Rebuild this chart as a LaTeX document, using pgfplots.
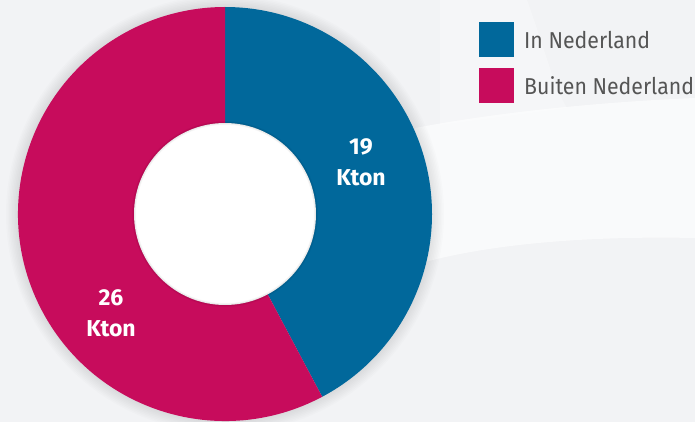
\documentclass[border=0pt]{standalone}
\usepackage{pgfplots}
\pgfplotsset{compat=1.18}
\usepackage{pgfplotstable}
\usepackage{fontspec}
\setmainfont{Fira Sans}
\definecolor{rhblue}{HTML}{01689B}
\definecolor{rhred}{HTML}{C70C5C}
\definecolor{bg}{HTML}{F2F3F5}
\definecolor{txt}{HTML}{555555}

\pgfplotstableread{
label value
InNederland 19
BuitenNederland 26
}\data

\begin{document}
\begin{tikzpicture}
\pgfplotstablegetelem{0}{value}\of\data \let\va\pgfplotsretval
\pgfplotstablegetelem{1}{value}\of\data \let\vb\pgfplotsretval
\pgfmathsetmacro\angA{360*\va/(\va+\vb)}
\pgfmathsetmacro\endA{90-\angA}
\begin{axis}[x=1pt,y=1pt,scale only axis,hide axis,
  xmin=0,xmax=695,ymin=0,ymax=422,y dir=reverse,clip=true]
\fill[bg] (axis cs:0,0) rectangle (axis cs:695,422);
% light swoosh
\fill[white,opacity=0.6] (axis cs:415,128) .. controls (axis cs:500,112) and (axis cs:600,102) .. (axis cs:695,98)
  -- (axis cs:695,238) .. controls (axis cs:600,236) and (axis cs:500,242) .. (axis cs:425,262) -- cycle;
\fill[white,opacity=0.3] (axis cs:440,0) -- (axis cs:527,0) .. controls (axis cs:545,50) and (axis cs:555,90) .. (axis cs:567,108)
  -- (axis cs:440,125) -- cycle;
% shadow
\pgfplotsinvokeforeach{1,...,8}{
  \fill[black,opacity=0.012] (axis cs:225,214) circle[radius=207+1.5*#1];
}
\fill[rhblue] (axis cs:225,214) -- ++(90:207pt) arc[start angle=90,end angle=\endA,radius=207pt] -- cycle;
\fill[rhred] (axis cs:225,214) -- ++(\endA:207pt) arc[start angle=\endA,end angle=-270,radius=207pt] -- cycle;
\fill[white] (axis cs:225,214) circle[radius=91];
\pgfplotsinvokeforeach{1,...,4}{
  \draw[black,opacity=0.025,line width=#1 pt] (axis cs:225,214) circle[radius=91];
}
% slice labels
\node[text=white,font=\fontsize{23}{31}\selectfont\bfseries,align=center] at (axis cs:361,162) {19\\Kton};
\node[text=white,font=\fontsize{23}{31}\selectfont\bfseries,align=center] at (axis cs:111,313) {26\\Kton};
% legend
\fill[rhblue] (axis cs:479,22) rectangle (axis cs:514,57);
\fill[rhred] (axis cs:479,68) rectangle (axis cs:514,103);
\node[anchor=west,inner sep=0pt,text=txt,font=\fontsize{23}{23}\selectfont] at (axis cs:524,40) {\scalebox{0.925}[1]{In Nederland}};
\node[anchor=west,inner sep=0pt,text=txt,font=\fontsize{23}{23}\selectfont] at (axis cs:524,86) {\scalebox{0.925}[1]{Buiten Nederland}};
\end{axis}
\pgfresetboundingbox
\path (current axis.south west) rectangle (current axis.north east);
\end{tikzpicture}
\end{document}
